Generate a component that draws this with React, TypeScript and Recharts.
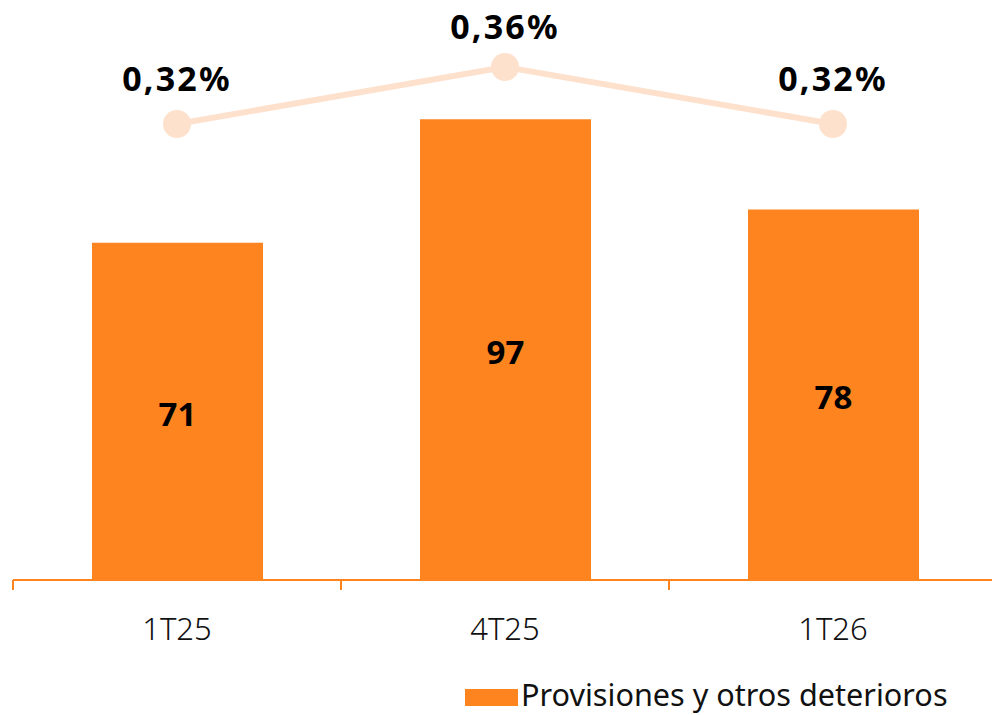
import React from "react";
import { ComposedChart, Bar, Line, XAxis, YAxis, LabelList, Legend } from "recharts";

const categories = ["1T25", "4T25", "1T26"];
const provisiones = [71, 97, 78];
const ratio = [0.32, 0.36, 0.32];
const seriesName = "Provisiones y otros deterioros";

const data = categories.map((c, i) => ({ cat: c, prov: provisiones[i], ratio: ratio[i] }));

const CHART_W = 1002;
const CHART_H = 715;
const MARGIN = { top: 10, right: 5, bottom: 0, left: 13 };
const BAND = (CHART_W - MARGIN.left - MARGIN.right) / categories.length;

const ORANGE = "#FD841F";
const LINE = "#FDE1CD";
const FONT = "'Noto Sans', 'Open Sans', sans-serif";

const fmtPct = (v: number) => v.toFixed(2).replace(".", ",") + "%";

const Tick = (props: any) => {
  const { x, y, payload } = props;
  return (
    <g>
      <line x1={x - BAND / 2} x2={x - BAND / 2} y1={y - 10} y2={y} stroke={ORANGE} strokeWidth={2} />
      <line x1={x + BAND / 2} x2={x + BAND / 2} y1={y - 10} y2={y} stroke={ORANGE} strokeWidth={2} />
      <text x={x} y={y + 50} textAnchor="middle" fontFamily={FONT} fontSize={31} fontWeight={300} fill="#111">
        {payload.value}
      </text>
    </g>
  );
};

const BarLabel = (props: any) => {
  const { x, y, width, height, value } = props;
  return (
    <text x={x + width / 2} y={y + height / 2 + 14.5} textAnchor="middle" fontFamily={FONT} fontSize={33} fontWeight={700} fill="#000">
      {value}
    </text>
  );
};

const LineLabel = (props: any) => {
  const { x, y, value } = props;
  return (
    <text x={x} y={Math.max(y - 33, 39)} textAnchor="middle" fontFamily={FONT} fontSize={34} fontWeight={700} letterSpacing={2.2} fill="#000">
      {fmtPct(value)}
    </text>
  );
};

const LegendContent = () => (
  <div style={{ position: "relative", height: 40, width: 992 }}>
    <div style={{ position: "absolute", left: 465, top: 14, width: 53, height: 17, background: ORANGE }} />
    <div
      style={{
        position: "absolute",
        left: 521,
        top: 4,
        fontFamily: FONT,
        fontSize: 30.6,
        lineHeight: "31px",
        color: "#111",
        whiteSpace: "nowrap",
      }}
    >
      {seriesName}
    </div>
  </div>
);

export default function App() {
  return (
    <div style={{ width: 992, height: 715, overflow: "hidden", background: "#fff" }}>
      <style>{"html,body{margin:0;padding:0;overflow:hidden;background:#fff}"}</style>
      <ComposedChart width={CHART_W} height={CHART_H} data={data} margin={MARGIN}>
        <XAxis
          dataKey="cat"
          height={95}
          axisLine={{ stroke: ORANGE, strokeWidth: 2 }}
          tickLine={false}
          tickSize={10}
          tickMargin={0}
          tick={<Tick />}
          interval={0}
        />
        <YAxis yAxisId="left" hide domain={[0, 120]} />
        <YAxis yAxisId="right" hide orientation="right" domain={[0, 0.4]} />
        <Legend verticalAlign="bottom" align="left" content={<LegendContent />} wrapperStyle={{ left: 0, bottom: 0, width: 992, height: 40 }} />
        <Bar yAxisId="left" dataKey="prov" name={seriesName} fill={ORANGE} barSize={171} isAnimationActive={false}>
          <LabelList dataKey="prov" content={<BarLabel />} />
        </Bar>
        <Line
          yAxisId="right"
          dataKey="ratio"
          stroke={LINE}
          strokeWidth={6}
          dot={{ r: 14, fill: LINE, stroke: "none" }}
          activeDot={false}
          legendType="none"
          isAnimationActive={false}
        >
          <LabelList dataKey="ratio" content={<LineLabel />} />
        </Line>
      </ComposedChart>
    </div>
  );
}
